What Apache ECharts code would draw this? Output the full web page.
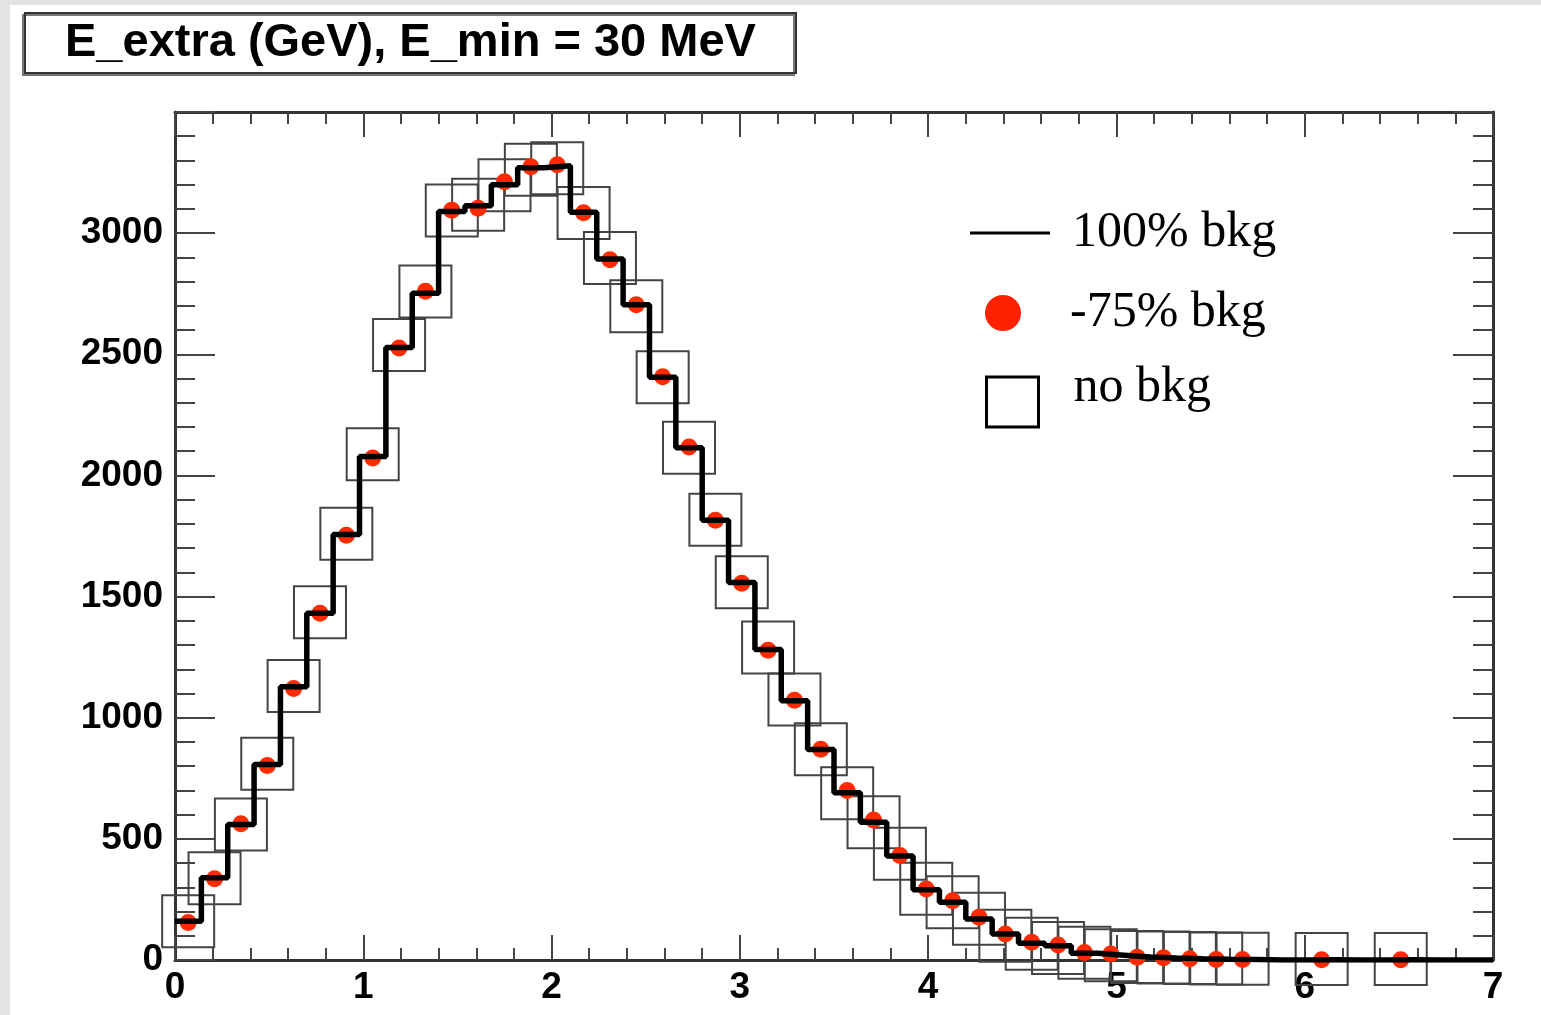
<!DOCTYPE html>
<html>
<head>
<meta charset="utf-8">
<title>E_extra</title>
<script src="https://cdn.jsdelivr.net/npm/echarts@6.0.0/dist/echarts.min.js"></script>
<style>
  html, body { margin: 0; padding: 0; background: #fff; }
  #chart { width: 1541px; height: 1015px; }
</style>
</head>
<body>
<div id="chart"></div>
<script>
// 50 bins of 0.14 GeV from 0 to 7
const binWidth = 0.14
const xTicks = [0, 1, 2, 3, 4, 5, 6, 7]
const yTicks = [0, 500, 1000, 1500, 2000, 2500, 3000]

// 100% bkg (black histogram)
const bkg100 = [160, 339, 559, 807, 1128, 1431, 1756, 2078, 2528, 2752,
  3089, 3113, 3200, 3270, 3278, 3086, 2893, 2704, 2405, 2114,
  1815, 1558, 1282, 1070, 869, 690, 569, 429, 290, 238,
  169, 107, 69, 59, 28, 20, 12, 8, 5, 3,
  2, 0, 0, 1, 0, 0, 1, 0, 0, 0]

// -75% bkg (red points)
const bkgMinus75 = [155, 335, 562, 803, 1121, 1431, 1753, 2072, 2526, 2760,
  3095, 3103, 3212, 3274, 3282, 3084, 2890, 2704, 2407, 2117,
  1815, 1555, 1278, 1072, 870, 700, 578, 431, 293, 245,
  176, 107, 73, 62, 31, 25, 11, 9, 5, 2,
  2, null, null, 1, null, null, 1, null, null, null]

// no bkg (open squares)
const noBkg = [160, 337, 559, 810, 1131, 1435, 1759, 2087, 2538, 2759,
  3093, 3117, 3198, 3262, 3268, 3083, 2897, 2698, 2405, 2114,
  1817, 1559, 1290, 1075, 870, 688, 569, 439, 294, 238,
  170, 100, 67, 50, 30, 20, 12, 10, 8, 6,
  5, null, null, 4, null, null, 4, null, null, null]

const chart = echarts.init(document.getElementById('chart'))

// step outline of the histogram
const stepData = []
bkg100.forEach((v, i) => {
  stepData.push([i * binWidth, v])
  stepData.push([(i + 1) * binWidth, v])
})
const center = (i) => (i + 0.5) * binWidth
const dotData = bkgMinus75.map((v, i) => (v === null ? null : [center(i), v])).filter(Boolean)
const squareData = noBkg.map((v, i) => (v === null ? null : [center(i), v])).filter(Boolean)

const frameLine = { show: true, onZero: false, lineStyle: { color: '#333', width: 3 } }
const tickStyle = { color: '#444', width: 2 }
const labelFont = { fontFamily: 'Liberation Sans', fontWeight: 'bold', fontSize: 37, color: '#000' }
const legendText = { fontFamily: 'Liberation Serif', fontSize: 50, lineHeight: 56, color: '#000' }

function xAxisOpt(pos, showLabel) {
  return {
    type: 'value',
    position: pos,
    min: xTicks[0],
    max: xTicks[xTicks.length - 1],
    interval: 1,
    axisLine: frameLine,
    axisTick: { show: true, inside: true, length: 25, lineStyle: tickStyle },
    minorTick: { show: true, splitNumber: 5, length: 12, lineStyle: tickStyle },
    axisLabel: Object.assign({ show: showLabel, margin: 9, formatter: (v) => String(v) }, labelFont),
    splitLine: { show: false }
  }
}
function yAxisOpt(pos, showLabel) {
  return {
    type: 'value',
    position: pos,
    min: yTicks[0],
    max: 3500,
    interval: 500,
    axisLine: frameLine,
    axisTick: { show: true, inside: true, length: 40, lineStyle: tickStyle },
    minorTick: { show: true, splitNumber: 5, length: 20, lineStyle: tickStyle },
    axisLabel: Object.assign({ show: showLabel, margin: 12, showMaxLabel: false, formatter: (v) => String(v) }, labelFont),
    splitLine: { show: false }
  }
}

const option = {
  backgroundColor: '#fff',
  animation: false,
  graphic: [
    { type: 'rect', left: 0, top: 0, shape: { width: 10, height: 1015 }, style: { fill: '#e3e3e3' } },
    { type: 'rect', left: 0, top: 0, shape: { width: 1541, height: 5 }, style: { fill: '#e3e3e3' } }
  ],
  title: {
    text: 'E_extra (GeV), E_min = 30 MeV',
    left: 25,
    top: 13,
    padding: [6, 40, 6, 40],
    borderColor: '#333',
    borderWidth: 2,
    backgroundColor: '#fff',
    shadowColor: '#777',
    shadowOffsetX: -2,
    shadowOffsetY: 2,
    textStyle: { fontFamily: 'Liberation Sans', fontWeight: 'bold', fontSize: 47, lineHeight: 48, color: '#000' }
  },
  legend: [
    {
      data: [{ name: '100% bkg', icon: 'rect' }],
      left: 970, top: 205, padding: 0,
      itemWidth: 80, itemHeight: 3,
      selectedMode: false,
      textStyle: Object.assign({ padding: [0, 0, 0, 17] }, legendText)
    },
    {
      data: [{ name: '-75% bkg', icon: 'circle' }],
      left: 985, top: 285, padding: 0,
      itemWidth: 36, itemHeight: 36,
      selectedMode: false,
      itemStyle: { color: '#ff2200', opacity: 1 },
      textStyle: Object.assign({ padding: [0, 0, 0, 44] }, legendText)
    },
    {
      data: [{ name: 'no bkg', icon: 'rect' }],
      left: 985, top: 363, padding: 0,
      itemWidth: 52, itemHeight: 50,
      selectedMode: false,
      itemStyle: { color: 'rgba(0,0,0,0)', borderColor: '#000', borderWidth: 3, opacity: 1 },
      // text sits a little higher than the square
      formatter: (name) => '{a|' + name + '}\n{b| }',
      textStyle: {
        padding: [0, 0, 0, 30],
        rich: { a: legendText, b: { fontSize: 10, lineHeight: 28 } }
      }
    }
  ],
  grid: { left: 175, right: 48, top: 112, bottom: 55 },
  xAxis: [xAxisOpt('bottom', true), xAxisOpt('top', false)],
  yAxis: [yAxisOpt('left', true), yAxisOpt('right', false)],
  series: [
    {
      name: 'no bkg',
      type: 'scatter',
      data: squareData,
      symbol: 'rect',
      symbolSize: 52,
      z: 1,
      itemStyle: { color: 'rgba(0,0,0,0)', borderColor: '#444', borderWidth: 2, opacity: 1 }
    },
    {
      name: '-75% bkg',
      type: 'scatter',
      data: dotData,
      symbol: 'circle',
      symbolSize: 17,
      z: 2,
      itemStyle: { color: '#ff2a00', opacity: 1 }
    },
    {
      name: '100% bkg',
      type: 'line',
      data: stepData,
      showSymbol: false,
      symbol: 'none',
      z: 3,
      color: '#000',
      lineStyle: { color: '#000', width: 5.5 }
    }
  ]
}

chart.setOption(option)
</script>
</body>
</html>
